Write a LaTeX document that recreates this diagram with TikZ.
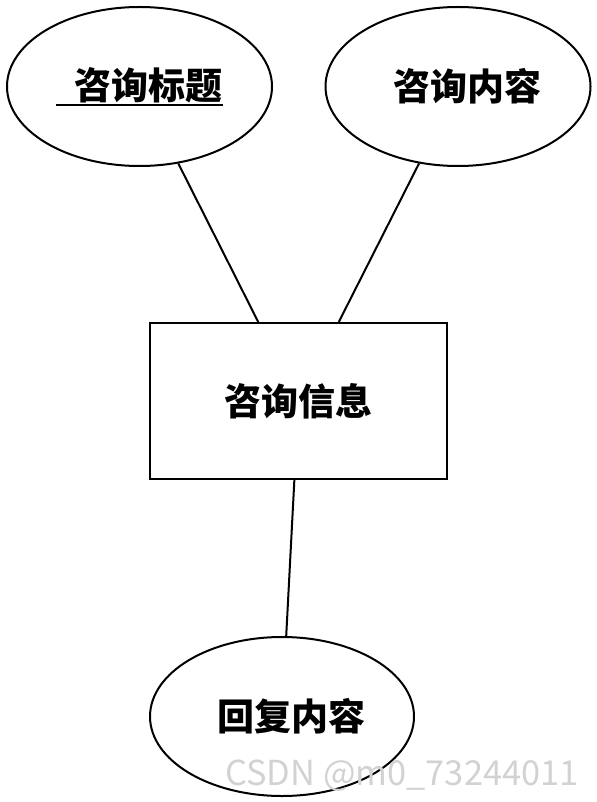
\documentclass[tikz,border=0pt]{standalone}
\usepackage{fontspec}
\newfontfamily\cjk{Noto Sans CJK SC}
\usetikzlibrary{shapes.geometric,positioning}
\newcommand\keyul[1]{\setbox0\hbox{#1}\rlap{\raisebox{-3pt}{\rule{\wd0}{1pt}}}\box0}

\begin{document}
\begin{tikzpicture}[x=0.5pt,y=-0.5pt,
    lbl/.style={font=\cjk\bfseries\fontsize{18.5pt}{20pt}\selectfont},
    attr/.style={ellipse,draw,line width=1pt,inner sep=0pt,
      minimum width=132.5pt,minimum height=79.5pt,lbl},
    ent/.style={rectangle,draw,line width=1pt,inner sep=0pt,
      minimum width=148.5pt,minimum height=78pt,lbl}]
 \useasboundingbox (0,0) rectangle (597,802);
 \node[attr] (title) at (139.5,86.5) {\keyul{\hspace*{.5em}咨询标题}};
 \node[attr] (content) at (458,86.5) {\hspace*{.5em}咨询内容};
 \node[ent] (info) at (298.5,401) {咨询信息};
 \node[attr,minimum width=132pt] (reply) at (282,716.5) {\hspace*{.5em}回复内容};
 \path[line width=1pt] foreach \X/\A in {title/117,content/63} {(\X) edge (info.\A)}
   (info.267) edge (reply);
 \node[text=gray!35,font=\cjk\fontsize{17.2pt}{19pt}\selectfont] (wm) at (402,776) {CSDN @m0\_73244011};
\end{tikzpicture}
\end{document}
